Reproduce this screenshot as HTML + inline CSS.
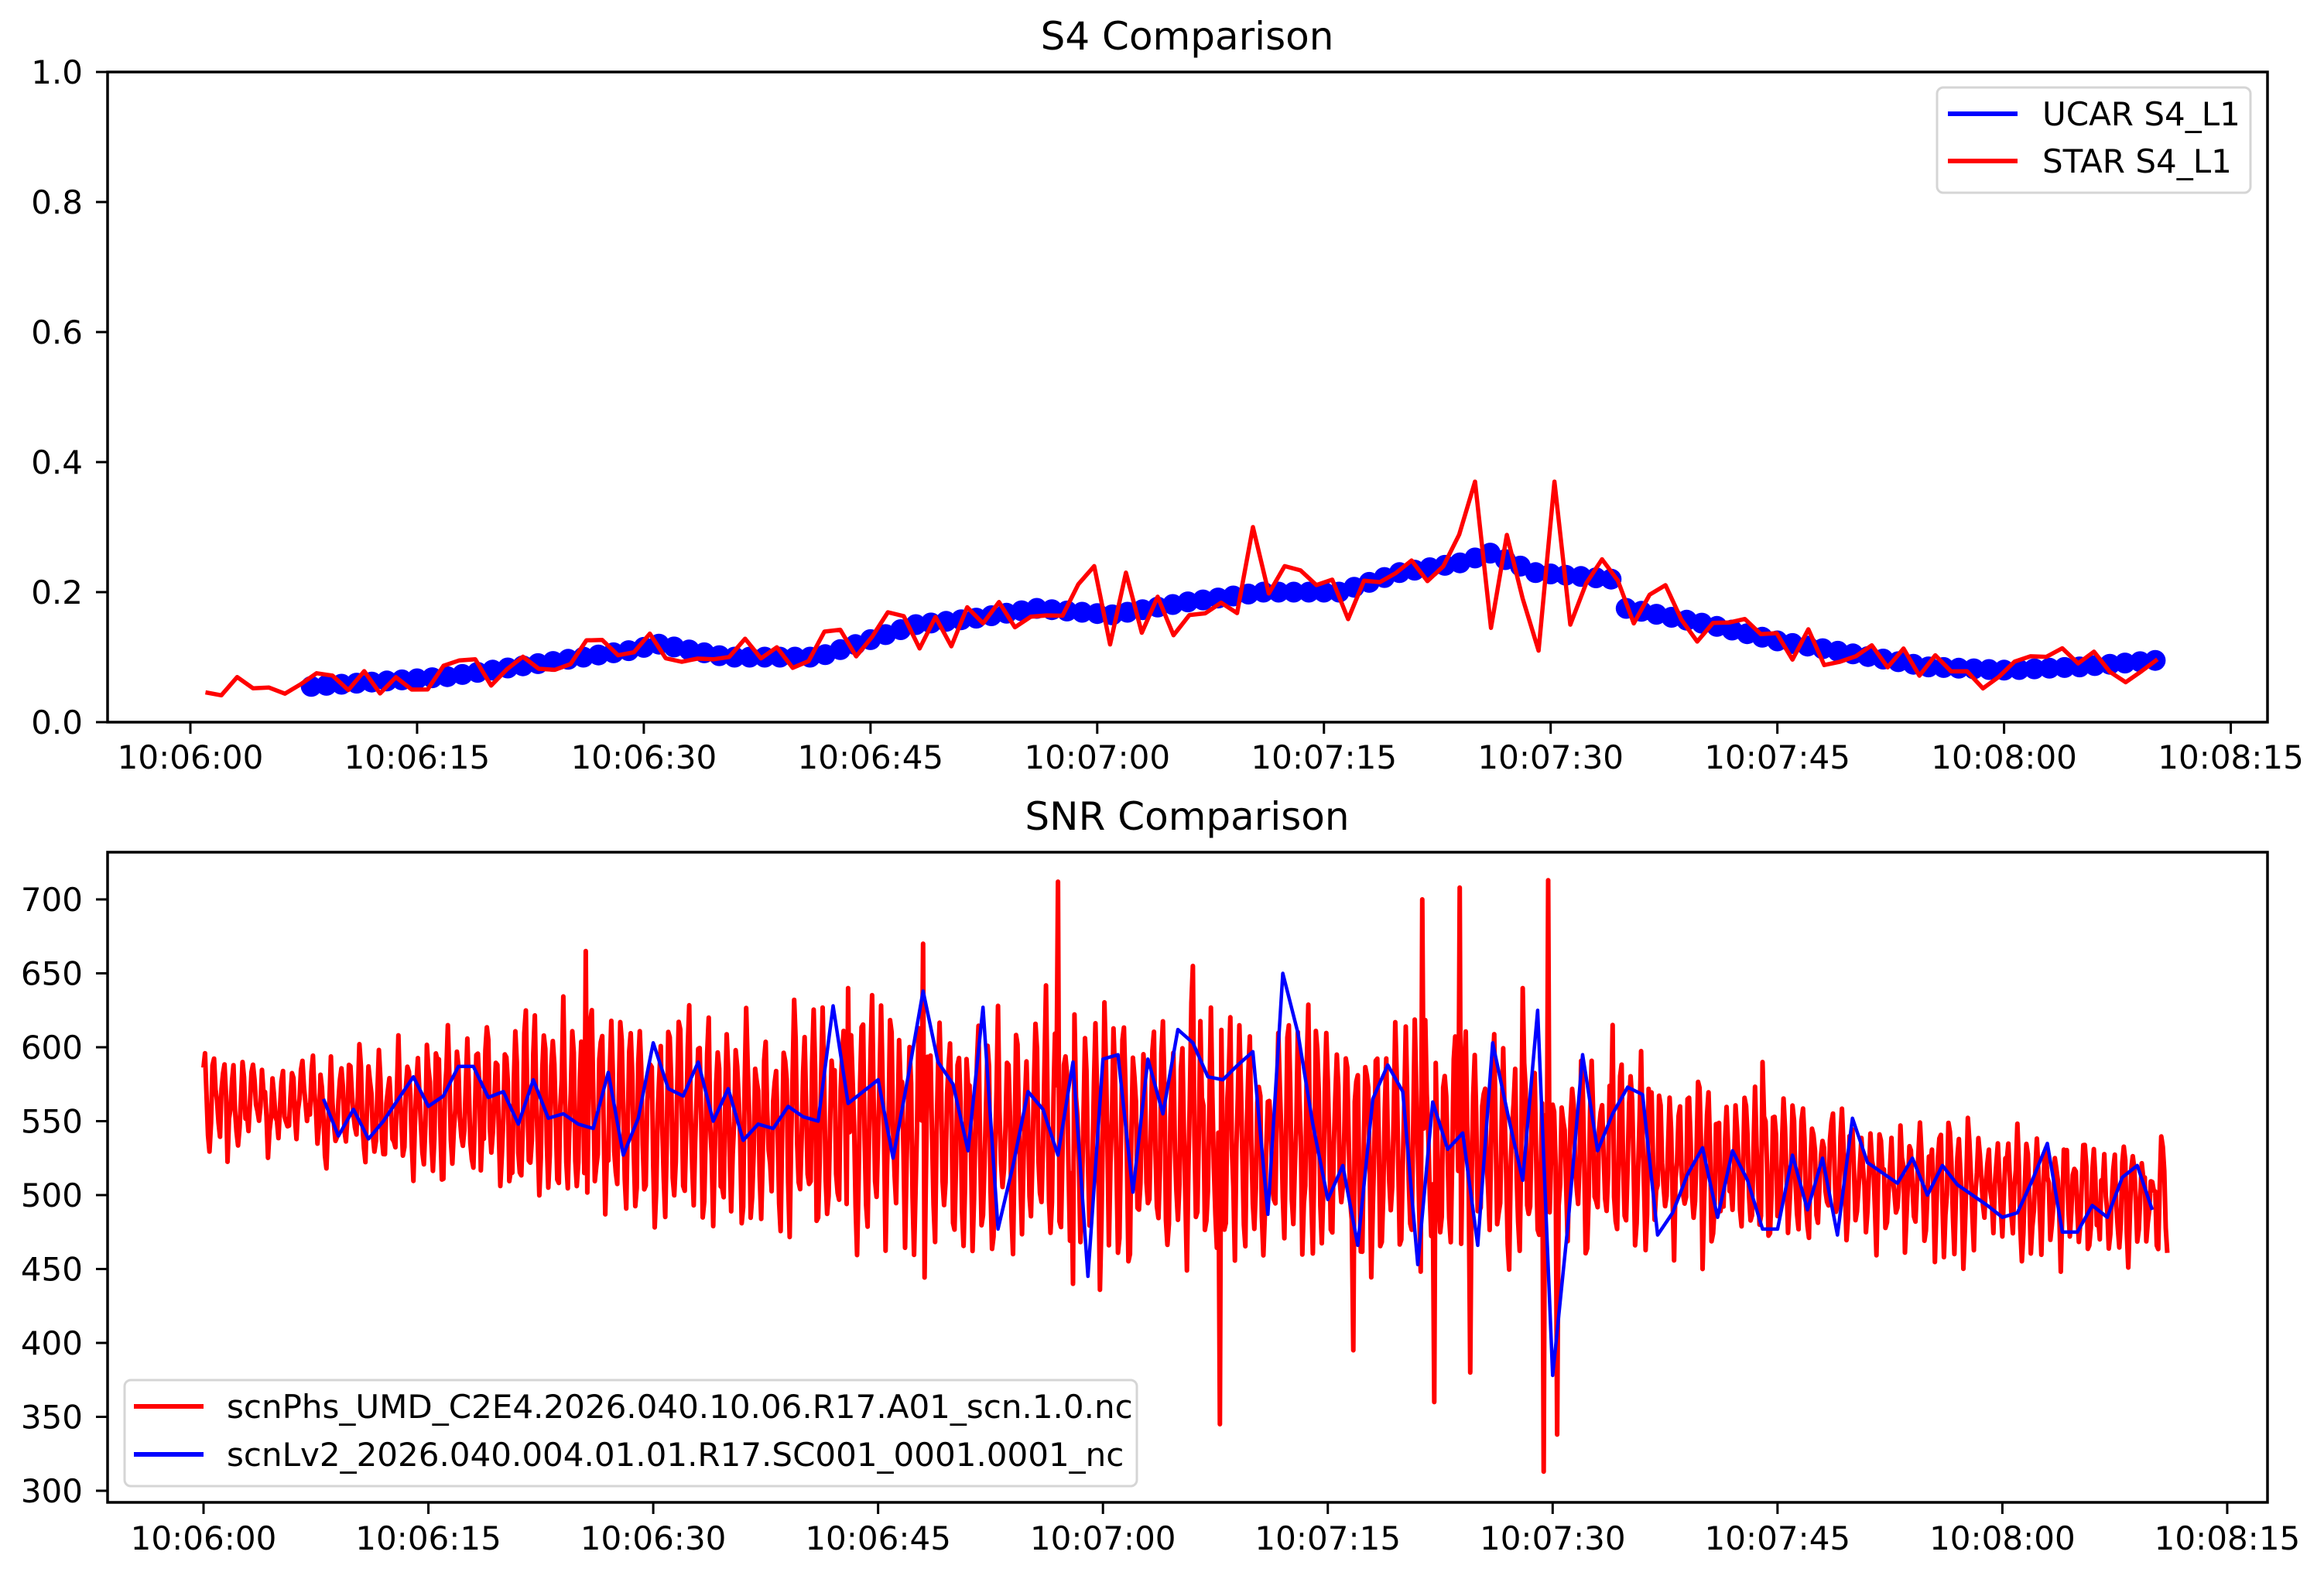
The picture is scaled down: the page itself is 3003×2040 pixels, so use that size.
<!DOCTYPE html>
<html><head><meta charset="utf-8">
<style>html,body{margin:0;padding:0;background:#fff}svg{display:block}text{font-family:"DejaVu Sans","Liberation Sans",sans-serif;fill:#000}</style>
</head><body>
<svg id="s" width="3003" height="2040" viewBox="0 0 3003 2040" xmlns="http://www.w3.org/2000/svg">
<rect width="3003" height="2040" fill="#fff"/>
<defs>
<clipPath id="c1"><rect x="139" y="93" width="2791" height="840"/></clipPath>
<clipPath id="c2"><rect x="139" y="1101" width="2791" height="840"/></clipPath>
</defs>
<g id="p1" clip-path="url(#c1)"></g>
<g id="p2" clip-path="url(#c2)"></g>
<rect x="139" y="93" width="2791" height="840" fill="none" stroke="#000" stroke-width="3.5"/>
<rect x="139" y="1101" width="2791" height="840" fill="none" stroke="#000" stroke-width="3.5"/>
<text x="1534" y="64" font-size="50" text-anchor="middle">S4 Comparison</text>
<text x="1534" y="1072" font-size="50" text-anchor="middle">SNR Comparison</text>
<g id="ax" font-size="42"></g>
<g>
<rect x="2503" y="113" width="405" height="136" rx="8" fill="#fff" fill-opacity="0.8" stroke="#d5d5d5" stroke-width="3"/>
<line x1="2517" y1="147" x2="2607" y2="147" stroke="#00f" stroke-width="6"/>
<line x1="2517" y1="208" x2="2607" y2="208" stroke="#f00" stroke-width="6"/>
<text x="2639" y="162" font-size="42">UCAR S4_L1</text>
<text x="2639" y="223" font-size="42">STAR S4_L1</text>
</g>
<g id="leg2">
<rect x="161" y="1783" width="1308" height="137" rx="8" fill="#fff" fill-opacity="0.8" stroke="#d5d5d5" stroke-width="3"/>
<line x1="173" y1="1817" x2="263" y2="1817" stroke="#f00" stroke-width="6"/>
<line x1="173" y1="1879" x2="263" y2="1879" stroke="#00f" stroke-width="6"/>
<text x="293" y="1832" font-size="42">scnPhs_UMD_C2E4.2026.040.10.06.R17.A01_scn.1.0.nc</text>
<text x="293" y="1894" font-size="42">scnLv2_2026.040.004.01.01.R17.SC001_0001.0001_nc</text>
</g>
</svg>
<script>
(function(){
var NS="http://www.w3.org/2000/svg";
function el(p,n,a){var e=document.createElementNS(NS,n);for(var k in a)e.setAttribute(k,a[k]);p.appendChild(e);return e;}
var seed=12345;function rnd(){seed=(seed*1103515245+12345)%2147483648;return seed/2147483648;}
var ax=document.getElementById('ax');
var labs=["10:06:00","10:06:15","10:06:30","10:06:45","10:07:00","10:07:15","10:07:30","10:07:45","10:08:00","10:08:15"];
function X1(t){return 246+t*19.53;} function Y1(v){return 933-v*840;}
function X2(t){return 263+t*19.37;} function Y2(v){return 1926-(v-300)*1.91;}
for(var i=0;i<10;i++){
 var x=X1(i*15);el(ax,'line',{x1:x,y1:933,x2:x,y2:948,stroke:'#000','stroke-width':3});
 var t=el(ax,'text',{x:x,y:993,'text-anchor':'middle'});t.textContent=labs[i];
 x=X2(i*15);el(ax,'line',{x1:x,y1:1941,x2:x,y2:1956,stroke:'#000','stroke-width':3});
 t=el(ax,'text',{x:x,y:2002,'text-anchor':'middle'});t.textContent=labs[i];
}
for(var i=0;i<=5;i++){var v=i*0.2,y=Y1(v);
 el(ax,'line',{x1:124,y1:y,x2:139,y2:y,stroke:'#000','stroke-width':3});
 var t=el(ax,'text',{x:107,y:y+15,'text-anchor':'end'});t.textContent=v.toFixed(1);}
for(var v=300;v<=700;v+=50){var y=Y2(v);
 el(ax,'line',{x1:124,y1:y,x2:139,y2:y,stroke:'#000','stroke-width':3});
 var t=el(ax,'text',{x:107,y:y+15,'text-anchor':'end'});t.textContent=v;}
var bp=[[8,.055],[17,.07],[23,.09],[29,.11],[31,.12],[35.5,.1],[41.5,.1],[48,.15],[52,.16],[56,.175],[61,.165],[66,.185],[71,.2],[76,.2],[80,.23],[84,.245],[86,.26],[89,.23],[94,.22],[95,.175],[100.5,.15],[105,.125],[110,.105],[115,.085],[120,.08],[125,.085],[130,.095]];
function interp(p,t){if(t<=p[0][0])return p[0][1];for(var i=1;i<p.length;i++){if(t<=p[i][0]){var a=p[i-1],b=p[i];return a[1]+(b[1]-a[1])*(t-a[0])/(b[0]-a[0]);}}return p[p.length-1][1];}
var g1=document.getElementById('p1');
var dots="";
for(var t=8;t<=130.01;t+=1){var v=interp(bp,t);dots+="M"+(X1(t)-0.01).toFixed(1)+","+Y1(v).toFixed(1)+"h0.02";}
el(g1,'path',{d:dots,stroke:'#00f','stroke-width':27,'stroke-linecap':'round',fill:'none'});
var spikes={60:.24,62:.23,70:.3,72:.24,85:.37,90:.37,86:.145,91:.15,88:.19,89:.11};
var d="";
for(var t=1;t<=131.01;t+=1.05){var tr=Math.round(t);var base=t<8?0.035+0.0015*t:interp(bp,t);
 var v=base+(rnd()-0.5)*0.06*(t>40&&t<100?1.6:1);
 if(spikes[tr]!==undefined && Math.abs(t-tr)<0.55)v=spikes[tr];
 if(v<0.035)v=0.035+rnd()*0.01;
 d+=(d?"L":"M")+X1(t).toFixed(1)+","+Y1(v).toFixed(1);}
el(g1,'path',{d:d,stroke:'#f00','stroke-width':5.5,fill:'none','stroke-linejoin':'round'});
var g2=document.getElementById('p2');
function cen(t){return t<10?560:(t<90?560-(t-10)*0.4:528-(t-90)*0.8);}
function amp(t){if(t<10)return 28;if(t<20)return 28+(t-10)*3;if(t<95)return 60+20*Math.sin((t-20)/75*Math.PI);if(t<110)return 60-(t-95)*1.5;return 38;}
var big=[[25.5,665],[43,640],[48,670],[57,712],[58,440],[67.8,345],[66,655],[76.7,395],[81.3,700],[82.1,360],[83.8,708],[84.5,380],[88,640],[89.4,313],[89.7,713],[90.3,338],[94,615],[100,450],[104,590]];
d="";var ph=0;
for(var t=0;t<=131;t+=0.1){
 ph+=0.1*2*Math.PI/(0.55+rnd()*0.2);
 var a=amp(t)*(0.5+0.7*rnd());
 var v=cen(t)+a*Math.sin(ph)+(rnd()-0.5)*25;
 for(var k=0;k<big.length;k++){if(Math.abs(big[k][0]-t)<0.05)v=big[k][1];}
 d+=(d?"L":"M")+X2(t).toFixed(1)+","+Y2(v).toFixed(1);}
el(g2,'path',{d:d,stroke:'#f00','stroke-width':6,fill:'none','stroke-linejoin':'round'});
var bv=[565,540,558,538,550,565,580,560,567,587,587,566,570,548,578,552,555,548,545,583,527,552,603,572,567,590,550,572,537,548,545,560,553,550,628,562,570,578,525,580,638,590,575,530,627,477,520,570,558,527,590,445,592,595,502,592,555,612,603,580,578,588,597,487,650,610,548,497,520,466,565,588,570,453,563,531,542,466,603,555,510,625,378,478,595,530,555,573,568,473,488,514,532,485,530,510,477,477,527,490,525,473,552,522,515,508,525,500,520,507,500,493,485,488,510,535,475,475,493,485,512,520,490];
d="";for(var i=0;i<bv.length;i++){d+=(i?"L":"M")+X2(8+i).toFixed(1)+","+Y2(bv[i]).toFixed(1);}
el(g2,'path',{d:d,stroke:'#00f','stroke-width':4.5,fill:'none','stroke-linejoin':'round'});
var s=document.getElementById('s');s.appendChild(document.getElementById('leg2'));
})();
</script>
</body></html>
